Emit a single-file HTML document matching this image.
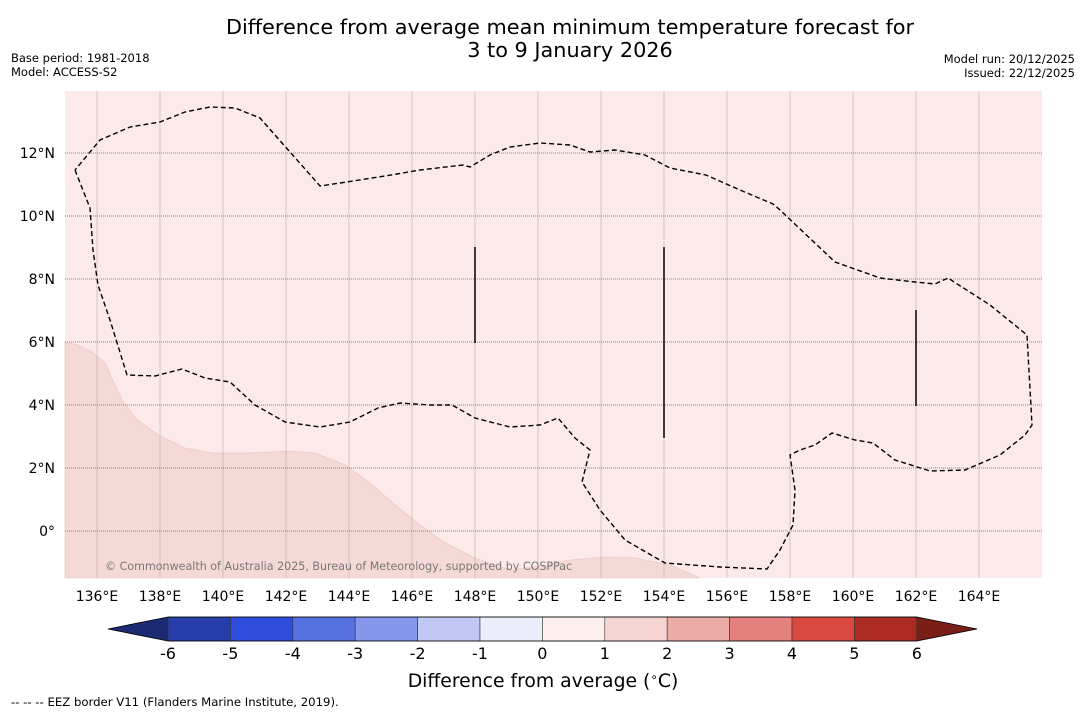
<!DOCTYPE html>
<html><head><meta charset="utf-8"><style>
body{margin:0;background:#fff;font-family:"DejaVu Sans","Liberation Sans",sans-serif;}
svg{display:block}
</style></head><body>
<svg width="1085" height="713" viewBox="0 0 1085 713" xmlns="http://www.w3.org/2000/svg" font-family="DejaVu Sans, Liberation Sans, sans-serif">
<text x="570" y="34" font-size="20.8" text-anchor="middle">Difference from average mean minimum temperature forecast for</text>
<text x="570" y="57" font-size="20.8" text-anchor="middle">3 to 9 January 2026</text>
<text x="11" y="62" font-size="11.5">Base period: 1981-2018</text>
<text x="11" y="76" font-size="11.5">Model: ACCESS-S2</text>
<text x="1075" y="63" font-size="11.5" text-anchor="end">Model run: 20/12/2025</text>
<text x="1075" y="77" font-size="11.5" text-anchor="end">Issued: 22/12/2025</text>
<g id="map"></g>
<g id="cbar"></g>
<text x="543" y="687" font-size="18.8" text-anchor="middle">Difference from average (<tspan font-size="12" dy="-6">∘</tspan><tspan dy="6">C)</tspan></text>
<text x="11" y="706" font-size="11.7">--  --  -- EEZ border V11 (Flanders Marine Institute, 2019).</text>
</svg>
<script>
const NS="http://www.w3.org/2000/svg";
const lonTicks=[136,138,140,142,144,146,148,150,152,154,156,158,160,162,164];
const latTicks=[12,10,8,6,4,2,0];
const cbLevels=[-6,-5,-4,-3,-2,-1,0,1,2,3,4,5,6];
const cbColors=["#273da9","#2f4ddc","#5670e0","#8597ea","#c1c8f4","#ebedfb","#fcefee","#f5d4d1","#ebaca8","#e4817c","#d9493f","#ab2a22"];
const X0=65,X1=1042,Y0=91,Y1=578;
const lx=l=>65.5+(l-135)*31.5, ly=l=>531-l*31.5;
function mk(t,a,p){const e=document.createElementNS(NS,t);for(const k in a)e.setAttribute(k,a[k]);p.appendChild(e);return e;}
const map=document.getElementById('map');
let r=mk('rect',{x:X0,y:Y0,width:X1-X0,height:Y1-Y0,fill:"#fbeae9"},map);


const warm="65,342 78,345 92,352 105,363 122,400 135,418 158,435 185,448 212,453 250,453 290,451 315,453 345,465 370,483 395,505 420,525 445,543 475,558 510,570 540,566 570,560 605,557 635,558 670,565 700,578 65,578";
let w=mk('polygon',{points:warm,fill:"#f5d9d6",stroke:"#e8c0bc","stroke-width":0.6},map);


lonTicks.forEach(l=>{const x=lx(l);
 let g=mk('line',{x1:x,x2:x,y1:Y0,y2:Y1,stroke:"#b0a0a0","stroke-width":0.5},map);
 
 
 let t=mk('text',{x:x,y:601,"font-size":14,"text-anchor":"middle"},map);t.textContent=l+"°E";
 
 });
latTicks.forEach(l=>{const y=ly(l);
 let g=mk('line',{x1:X0,x2:X1,y1:y,y2:y,stroke:"#666","stroke-width":0.7,"stroke-dasharray":"1,1"},map);
 
 
 let t=mk('text',{x:55,y:y+5,"font-size":14,"text-anchor":"end"},map);t.textContent=l===0?"0°":l+"°N";
 
 });
const eez="75,170 90,208 93,250 98,285 110,320 127,375 155,376 182,369 205,378 230,382 255,405 285,422 320,427 350,422 378,408 400,403 430,405 452,405 475,418 510,427 540,425 558,418 575,438 590,450 582,482 600,510 625,540 665,563 720,567 767,569 780,550 793,525 795,490 790,455 800,450 815,445 832,433 855,440 873,443 895,460 930,471 965,470 1000,455 1025,435 1032,425 1027,335 990,305 948,278 935,284 915,282 880,278 835,262 780,210 773,204 740,190 706,175 670,168 645,155 615,150 590,152 570,145 540,143 510,147 490,155 470,167 463,165 420,170 385,176 340,183 320,186 260,118 235,108 210,107 185,112 160,122 130,127 100,140 75,170";
let e=mk('polyline',{points:eez,fill:"none",stroke:"#000","stroke-width":1.4,"stroke-dasharray":"5,3"},map);


[[475,247,343],[664,247,438],[916,310,406]].forEach(s=>{
 let l=mk('line',{x1:s[0],x2:s[0],y1:s[1],y2:s[2],stroke:"#000","stroke-width":1.5},map);
 
 });
let c=mk('text',{x:105,y:570,"font-size":11.1,fill:"#777"},map);c.textContent="© Commonwealth of Australia 2025, Bureau of Meteorology, supported by COSPPac";


const cb=document.getElementById('cbar');
const cx=v=>168+(v+6)*62.4, cy0=617, cy1=641;
let lt=mk('polygon',{points:`108,629 ${cx(-6)},${cy0} ${cx(-6)},${cy1}`,fill:"#1c2a74"},cb);


let rt=mk('polygon',{points:`977,629 ${cx(6)},${cy0} ${cx(6)},${cy1}`,fill:"#7a1e18"},cb);


cbColors.forEach((col,i)=>{
 let b=mk('rect',{x:cx(cbLevels[i]),y:cy0,width:cx(cbLevels[i+1])-cx(cbLevels[i]),height:cy1-cy0,fill:col,stroke:"#333","stroke-width":0.6},cb);
 
 });
let ol=mk('polygon',{points:`108,629 ${cx(-6)},${cy0} ${cx(6)},${cy0} 977,629 ${cx(6)},${cy1} ${cx(-6)},${cy1}`,fill:"none",stroke:"#000","stroke-width":0.8},cb);


cbLevels.forEach(v=>{
 let t=mk('text',{x:cx(v),y:659,"font-size":16,"text-anchor":"middle"},cb);t.textContent=v;
 
 });
</script>
</body></html>
